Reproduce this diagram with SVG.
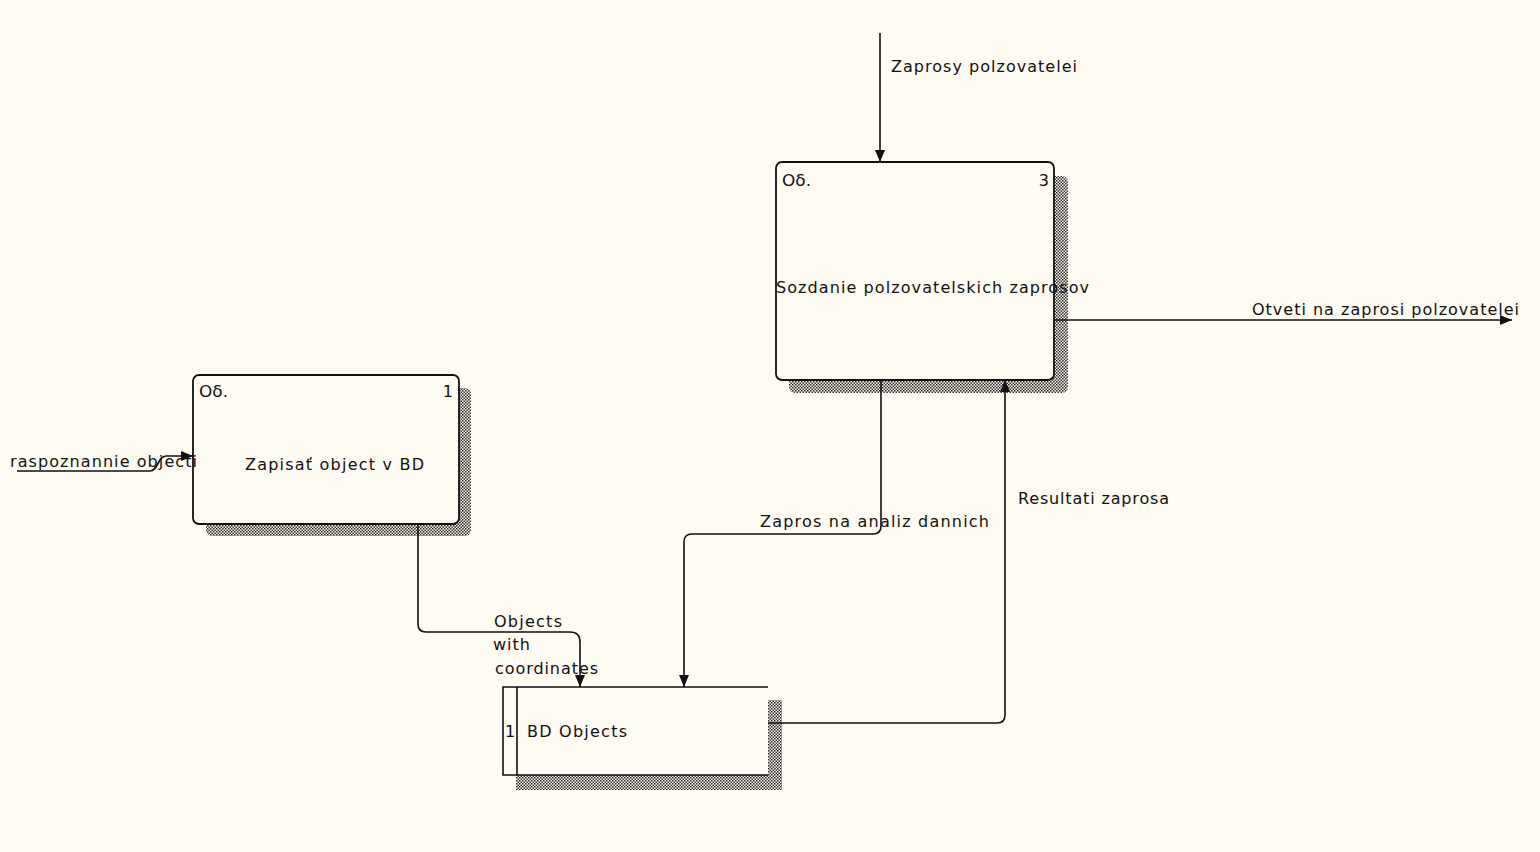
<svg xmlns="http://www.w3.org/2000/svg" width="1540" height="852" viewBox="0 0 1540 852">
<style>
.bg{fill:#fefbf2}
.box{fill:#fefbf2;stroke:#111;stroke-width:1.8}
.sh{fill:url(#hatch)}
.ln{fill:none;stroke:#111;stroke-width:1.6}
.conn{fill:none;stroke:#111;stroke-width:1.6}
text{font-family:"DejaVu Sans","Liberation Sans",Arial,sans-serif;font-size:16px;fill:#111}
</style>
<defs>
<pattern id="hatch" width="3" height="3" patternUnits="userSpaceOnUse">
<rect width="3" height="3" fill="#fefbf2"/>
<rect x="0" y="0" width="1.5" height="1.5" fill="#222"/>
<rect x="1.5" y="1.5" width="1.5" height="1.5" fill="#333"/>
</pattern>
<marker id="arr" viewBox="0 0 12 10" refX="12" refY="5" markerWidth="12" markerHeight="10" markerUnits="userSpaceOnUse" orient="auto">
<path d="M0,0 L12,5 L0,10 z" fill="#111"/>
</marker>
</defs>
<rect class="bg" width="1540" height="852"/>

<g id="node1">
<rect class="sh" x="206" y="388" width="265" height="148" rx="6"/>
<rect class="box" x="193" y="375" width="266" height="149" rx="6"/>
<text x="199" y="397" textLength="29" lengthAdjust="spacingAndGlyphs">Оδ.</text>
<text x="453" y="397" text-anchor="end">1</text>
<text x="245" y="470" textLength="179" lengthAdjust="spacing">Zapisať object v BD</text>
</g>

<g id="node3">
<rect class="sh" x="789" y="176" width="279" height="217" rx="6"/>
<rect class="box" x="776" y="162" width="278" height="218" rx="6"/>
<text x="782" y="186" textLength="29" lengthAdjust="spacingAndGlyphs">Оδ.</text>
<text x="1049" y="186" text-anchor="end">3</text>
<text x="776" y="293" textLength="313" lengthAdjust="spacing">Sozdanie polzovatelskich zaprosov</text>
</g>

<g id="store1">
<rect class="sh" x="516" y="700" width="266" height="90"/>
<rect class="bg" x="503" y="687" width="265" height="88"/>
<path class="ln" d="M768,687 H503 V775 H768 M517,687 V775"/>
<text x="505" y="737">1</text>
<text x="527" y="737" textLength="100" lengthAdjust="spacing">BD Objects</text>
</g>

<g id="connectors">
<path class="conn" d="M17,471 H150 C158,471 158,456 166,456 H193" marker-end="url(#arr)"/>
<path class="conn" d="M418,524 V624 Q418,632 426,632 H570 Q580,632 580,642 V687" marker-end="url(#arr)"/>
<path class="conn" d="M881,380 V526 Q881,534 873,534 H692 Q684,534 684,542 V687" marker-end="url(#arr)"/>
<path class="conn" d="M768,723 H997 Q1005,723 1005,715 V380" marker-end="url(#arr)"/>
<path class="conn" d="M880,33 V162" marker-end="url(#arr)"/>
<path class="conn" d="M1054,320 H1512" marker-end="url(#arr)"/>
</g>

<g id="labels">
<text x="10" y="467" textLength="187" lengthAdjust="spacing">raspoznannie objecti</text>
<text x="494" y="627" textLength="68" lengthAdjust="spacing">Objects</text>
<text x="493" y="650" textLength="37" lengthAdjust="spacing">with</text>
<text x="495" y="674" textLength="103" lengthAdjust="spacing">coordinates</text>
<text x="760" y="527" textLength="229" lengthAdjust="spacing">Zapros na analiz dannich</text>
<text x="1018" y="504" textLength="151" lengthAdjust="spacing">Resultati zaprosa</text>
<text x="891" y="72" textLength="186" lengthAdjust="spacing">Zaprosy polzovatelei</text>
<text x="1252" y="315" textLength="267" lengthAdjust="spacing">Otveti na zaprosi polzovatelei</text>
</g>
</svg>
